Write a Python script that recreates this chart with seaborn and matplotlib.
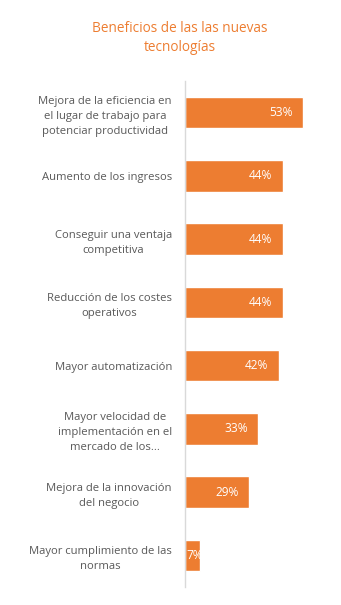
import matplotlib
matplotlib.use("Agg")
import matplotlib.pyplot as plt
import seaborn as sns
import pandas as pd

categories = [
    "Mejora de la eficiencia en\nel lugar de trabajo para\npotenciar productividad",
    "Aumento de los ingresos",
    "Conseguir una ventaja\ncompetitiva",
    "Reducción de los costes\noperativos",
    "Mayor automatización",
    "Mayor velocidad de\nimplementación en el\nmercado de los...",
    "Mejora de la innovación\ndel negocio",
    "Mayor cumplimiento de las\nnormas",
]
values = [53, 44, 44, 44, 42, 33, 29, 7]
title = "Beneficios de las las nuevas\ntecnologías"

ORANGE = "#ED7D31"
GRAY_TEXT = "#595959"

sns.set_theme(style="white")
plt.rcParams["font.family"] = ["Open Sans", "DejaVu Sans"]

df = pd.DataFrame({"categoria": categories, "valor": values})

fig = plt.figure(figsize=(3.41, 6.05), dpi=100)
ax = fig.add_axes([184.5 / 341, 1 - 587 / 605, 145.5 / 341, (587 - 81) / 605])

sns.barplot(data=df, x="valor", y="categoria", orient="h", color=ORANGE,
            saturation=1, width=0.5, ax=ax)

ax.set_xlim(0, 65)
ax.set_ylim(len(categories) - 0.5, -0.5)
ax.set_xlabel("")
ax.set_ylabel("")
ax.set_xticks([])
for side in ["top", "right", "bottom"]:
    ax.spines[side].set_visible(False)
ax.spines["left"].set_color("#D9D9D9")
ax.spines["left"].set_linewidth(1)

ax.tick_params(axis="y", length=0, pad=9, labelsize=8.1, labelcolor=GRAY_TEXT)
for t in ax.get_yticklabels():
    t.set_multialignment("center")
    t.set_linespacing(1.5)

# value labels inside the bar ends
for i, v in enumerate(values):
    if v >= 10:
        ax.annotate(f"{v}%", xy=(v, i), xytext=(-7.5, 0), textcoords="offset points",
                    ha="right", va="center", color="white", fontsize=8.6)
    else:
        ax.annotate(f"{v}%", xy=(0, i), xytext=(1.5, 0), textcoords="offset points",
                    ha="left", va="center", color="white", fontsize=8.6)

fig.text(180 / 341, 1 - 38 / 605, title, ha="center", va="center",
         color=ORANGE, fontsize=9.8, linespacing=1.45)

fig.savefig("out.png", dpi=100, facecolor="white")
